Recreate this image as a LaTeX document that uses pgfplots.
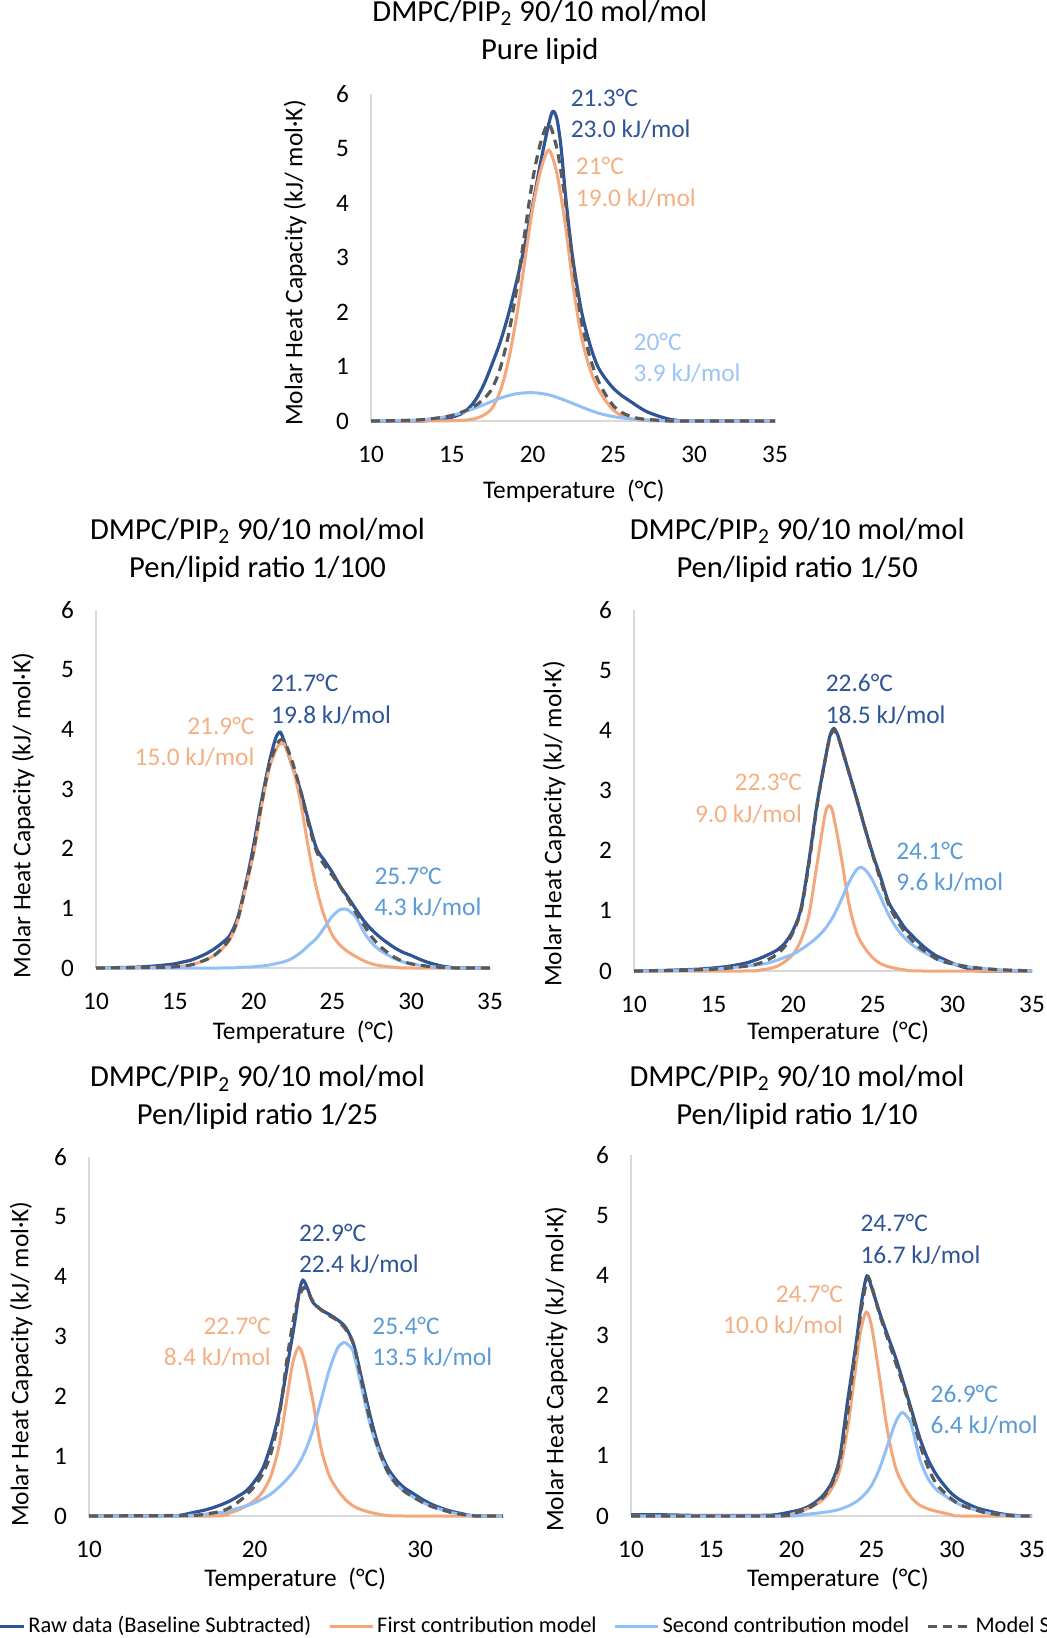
\documentclass[border=0pt]{standalone}
\usepackage{pgfplots}
\pgfplotsset{compat=1.18}
\usepackage{fontspec}
\setmainfont{Carlito}
\definecolor{rawblue}{HTML}{2F5597}
\definecolor{orng}{HTML}{F4A77A}
\definecolor{orngtxt}{HTML}{F4B084}
\definecolor{lblue}{HTML}{92C0F6}
\definecolor{lbtxt}{HTML}{9CC4F4}
\definecolor{mbtxt}{HTML}{5B9BD5}
\definecolor{sumgray}{HTML}{595959}
\tikzset{ann/.style={inner sep=0pt, font=\fontsize{12.7}{15.7}\selectfont}}
\pgfplotsset{
 dsc/.style={
  scale only axis, xmin=10, xmax=35, ymin=0, ymax=6,
  ytick={0,1,2,3,4,5,6}, xtick={10,15,20,25,30,35},
  axis lines=left, axis line style={-, draw=black!15, line width=0.6pt},
  major tick length=0pt,
  tick label style={font=\fontsize{12.6}{14}\selectfont, black},
  /pgf/number format/assume math mode=true,
  yticklabel style={xshift=-7.5pt},
  xticklabel style={yshift=-9pt},
  label style={font=\fontsize{12.7}{15}\selectfont},
  xlabel={Temperature\hspace{3pt} (°C)},
  ylabel={Molar Heat Capacity (kJ/ mol·K)},
  title style={align=center, font=\fontsize{15.3}{19}\selectfont, anchor=center, yshift=0pt},
  clip=false,
 },
 raw/.style={rawblue, line width=1.6pt, smooth},
 first/.style={orng, line width=1.5pt, smooth},
 second/.style={lblue, line width=1.5pt, smooth},
 msum/.style={sumgray, line width=1.6pt, dash pattern=on 4.5pt off 3pt, smooth},
}
\begin{document}
\begin{tikzpicture}
\useasboundingbox (0,0) rectangle (523.5pt,819pt);
% ---------------- Top: pure lipid
\begin{axis}[dsc, at={(185.5pt,608.5pt)}, anchor=south west, width=202pt, height=163.5pt,
 title={DMPC/PIP\textsubscript{2} 90/10 mol/mol\\Pure lipid}, title style={at={(0.418,1.153)}},
 x label style={at={(axis description cs:0.502,-0.214)}, anchor=center},
 y label style={at={(axis description cs:-0.188,0.483)}, anchor=center}]
\addplot[raw] coordinates {(10,0) (13,0) (13.5,0.01) (14,0.02) (14.5,0.04) (15,0.07) (15.5,0.12) (16,0.22) (16.5,0.4) (17,0.68) (17.5,1.05) (18,1.45) (18.5,1.95) (19,2.55) (19.5,3.2) (20,3.95) (20.5,4.75) (21,5.45) (21.25,5.68) (21.5,5.55) (21.75,5.05) (22,4.25) (22.25,3.55) (22.5,2.95) (23,2.05) (23.5,1.45) (24,1.02) (24.5,0.78) (25,0.6) (25.5,0.47) (26,0.37) (26.5,0.27) (27,0.18) (27.5,0.12) (28,0.07) (28.5,0.03) (29,0.01) (29.5,0) (35,0)};
\addplot[first] coordinates {(10,0) (14,0) (15,0.005) (15.5,0.01) (16,0.02) (16.5,0.05) (17,0.11) (17.5,0.24) (18,0.55) (18.5,1.1) (19,1.9) (19.5,2.9) (20,3.9) (20.5,4.6) (21,4.97) (21.5,4.55) (22,3.65) (22.5,2.5) (23,1.58) (23.5,1.0) (24,0.62) (24.5,0.38) (25,0.2) (25.5,0.1) (26,0.05) (26.5,0.02) (27,0.01) (28,0) (35,0)};
\addplot[second] coordinates {(10,0) (11,0.005) (12,0.01) (13,0.02) (14,0.05) (15,0.1) (16,0.19) (17,0.3) (18,0.42) (19,0.5) (20,0.52) (21,0.48) (22,0.38) (23,0.26) (24,0.15) (25,0.08) (26,0.04) (27,0.02) (28,0.01) (29,0) (35,0)};
\addplot[msum] coordinates {(10,0) (12,0.01) (13,0.02) (14,0.05) (15,0.1) (15.5,0.15) (16,0.21) (16.5,0.29) (17,0.41) (17.5,0.6) (18,0.97) (18.5,1.57) (19,2.4) (19.5,3.42) (20,4.42) (20.5,5.11) (21,5.45) (21.5,5.0) (22,4.1) (22.5,2.9) (23,1.88) (23.5,1.22) (24,0.78) (24.5,0.49) (25,0.28) (25.5,0.16) (26,0.09) (26.5,0.05) (27,0.03) (28,0.01) (29,0) (35,0)};
\node[ann, anchor=west, align=left, text=rawblue] at (axis cs:22.34,5.64) {21.3°C\\23.0 kJ/mol};
\node[ann, anchor=west, align=left, text=orngtxt] at (axis cs:22.66,4.38) {21°C\\19.0 kJ/mol};
\node[ann, anchor=west, align=left, text=lbtxt] at (axis cs:26.23,1.155) {20°C\\3.9 kJ/mol};
\end{axis}
% ---------------- Middle left: 1/100
\begin{axis}[dsc, at={(48pt,335pt)}, anchor=south west, width=197pt, height=179pt,
 title={DMPC/PIP\textsubscript{2} 90/10 mol/mol\\Pen/lipid ratio 1/100}, title style={at={(0.41,1.134)}},
 x label style={at={(axis description cs:0.527,-0.179)}, anchor=center},
 y label style={at={(axis description cs:-0.185,0.425)}, anchor=center}]
\addplot[raw] coordinates {(10,0) (12,0.01) (13,0.02) (14,0.04) (15,0.07) (15.5,0.1) (16,0.13) (16.5,0.18) (17,0.24) (17.5,0.32) (18,0.42) (18.5,0.55) (19,0.85) (19.5,1.4) (20,2.05) (20.5,2.8) (21,3.45) (21.4,3.85) (21.7,3.95) (22,3.75) (22.5,3.35) (23,2.95) (23.5,2.45) (24,2.0) (24.5,1.8) (25,1.6) (25.5,1.37) (26,1.18) (26.5,0.98) (27,0.79) (27.5,0.64) (28,0.52) (28.5,0.42) (29,0.33) (29.5,0.26) (30,0.21) (30.5,0.15) (31,0.1) (31.5,0.06) (32,0.03) (32.5,0.01) (33,0) (35,0)};
\addplot[first] coordinates {(10,0) (14,0.01) (15,0.02) (16,0.05) (16.5,0.09) (17,0.14) (17.5,0.21) (18,0.32) (18.5,0.48) (19,0.8) (19.5,1.35) (20,1.92) (20.5,2.7) (21,3.35) (21.5,3.7) (21.8,3.76) (22,3.72) (22.5,3.35) (23,2.75) (23.5,1.98) (24,1.32) (24.5,0.86) (25,0.55) (25.5,0.38) (26,0.27) (26.5,0.19) (27,0.12) (27.5,0.07) (28,0.04) (29,0.01) (30,0) (35,0)};
\addplot[second] coordinates {(10,0) (18,0) (19,0.01) (20,0.02) (21,0.05) (22,0.11) (22.5,0.17) (23,0.26) (23.5,0.38) (24,0.5) (24.5,0.68) (25,0.87) (25.5,0.98) (25.75,0.99) (26,0.97) (26.5,0.85) (27,0.6) (27.5,0.42) (28,0.3) (28.5,0.22) (29,0.15) (29.5,0.1) (30,0.07) (31,0.03) (32,0.01) (33,0) (35,0)};
\addplot[msum] coordinates {(10,0) (14,0.01) (15,0.02) (16,0.05) (16.5,0.09) (17,0.14) (17.5,0.21) (18,0.33) (18.5,0.5) (19,0.82) (19.5,1.38) (20,1.97) (20.5,2.75) (21,3.4) (21.5,3.76) (21.8,3.83) (22,3.78) (22.5,3.42) (23,2.95) (23.5,2.4) (24,1.95) (24.5,1.72) (25,1.55) (25.5,1.36) (26,1.15) (26.5,0.92) (27,0.72) (27.5,0.52) (28,0.37) (28.5,0.26) (29,0.17) (29.5,0.11) (30,0.07) (31,0.03) (32,0.01) (33,0) (35,0)};
\node[ann, anchor=west, align=left, text=rawblue] at (axis cs:21.09,4.5) {21.7°C\\19.8 kJ/mol};
\node[ann, anchor=east, align=right, text=orngtxt] at (axis cs:20.08,3.785) {21.9°C\\15.0 kJ/mol};
\node[ann, anchor=west, align=left, text=mbtxt] at (axis cs:27.65,1.275) {25.7°C\\4.3 kJ/mol};
\end{axis}
% ---------------- Middle right: 1/50
\begin{axis}[dsc, at={(317pt,333.5pt)}, anchor=south west, width=199pt, height=180.5pt,
 title={DMPC/PIP\textsubscript{2} 90/10 mol/mol\\Pen/lipid ratio 1/50}, title style={at={(0.41,1.133)}},
 x label style={at={(axis description cs:0.513,-0.169)}, anchor=center},
 y label style={at={(axis description cs:-0.201,0.407)}, anchor=center}]
\addplot[raw] coordinates {(10,0) (12,0.01) (13,0.02) (14,0.03) (15,0.05) (16,0.08) (17,0.13) (17.5,0.17) (18,0.22) (18.5,0.28) (19,0.35) (19.5,0.47) (20,0.68) (20.5,1.05) (21,1.85) (21.5,2.78) (22,3.5) (22.3,3.9) (22.55,4.03) (22.8,3.92) (23,3.75) (23.5,3.3) (24,2.85) (24.5,2.38) (25,1.94) (25.5,1.55) (26,1.14) (26.5,0.92) (27,0.72) (27.5,0.58) (28,0.45) (28.5,0.34) (29,0.25) (29.5,0.19) (30,0.13) (30.5,0.08) (31,0.04) (31.5,0.01) (32,0) (35,0)};
\addplot[first] coordinates {(10,0) (17,0) (18,0.02) (18.5,0.04) (19,0.08) (19.5,0.16) (20,0.28) (20.5,0.52) (21,0.95) (21.5,1.78) (22,2.6) (22.25,2.75) (22.5,2.62) (23,1.92) (23.5,1.12) (24,0.62) (24.5,0.38) (25,0.22) (25.5,0.12) (26,0.07) (26.5,0.04) (27,0.02) (28,0) (35,0)};
\addplot[second] coordinates {(10,0) (13,0.01) (14,0.02) (15,0.03) (16,0.05) (17,0.08) (18,0.11) (18.5,0.14) (19,0.18) (19.5,0.23) (20,0.28) (20.5,0.36) (21,0.45) (21.5,0.56) (22,0.7) (22.5,0.9) (23,1.17) (23.5,1.47) (24,1.69) (24.3,1.72) (24.6,1.66) (25,1.5) (25.5,1.22) (26,0.93) (26.5,0.71) (27,0.55) (27.5,0.43) (28,0.34) (28.5,0.27) (29,0.2) (29.5,0.15) (30,0.12) (31,0.07) (32,0.04) (33,0.02) (34,0.01) (35,0)};
\addplot[msum] coordinates {(10,0) (13,0.01) (14,0.02) (15,0.03) (16,0.05) (17,0.08) (17.5,0.1) (18,0.14) (18.5,0.2) (19,0.28) (19.5,0.42) (20,0.65) (20.5,1.02) (21,1.8) (21.5,2.75) (22,3.5) (22.3,3.88) (22.55,4.0) (22.8,3.9) (23,3.74) (23.5,3.3) (24,2.85) (24.5,2.38) (25,1.92) (25.5,1.5) (26,1.1) (26.5,0.85) (27,0.65) (27.5,0.5) (28,0.38) (28.5,0.29) (29,0.2) (29.5,0.15) (30,0.12) (31,0.07) (32,0.04) (33,0.02) (34,0.01) (35,0)};
\node[ann, anchor=west, align=left, text=rawblue] at (axis cs:22.02,4.515) {22.6°C\\18.5 kJ/mol};
\node[ann, anchor=east, align=right, text=orngtxt] at (axis cs:20.57,2.87) {22.3°C\\9.0 kJ/mol};
\node[ann, anchor=west, align=left, text=mbtxt] at (axis cs:26.45,1.735) {24.1°C\\9.6 kJ/mol};
\end{axis}
% ---------------- Bottom left: 1/25
\begin{axis}[dsc, at={(44.5pt,61pt)}, anchor=south west, width=207pt, height=179.5pt,
 xtick={10,20,30},
 title={DMPC/PIP\textsubscript{2} 90/10 mol/mol\\Pen/lipid ratio 1/25}, title style={at={(0.407,1.132)}},
 x label style={at={(axis description cs:0.498,-0.175)}, anchor=center},
 y label style={at={(axis description cs:-0.164,0.423)}, anchor=center},
 legend columns=4,
 legend style={draw=none, fill=none, inner sep=0pt, at={(axis description cs:-0.266,-0.307)}, anchor=west,
   font=\fontsize{11.2}{13}\selectfont, nodes={inner sep=1.5pt},
   /tikz/every even column/.append style={column sep=7pt}},
 legend image code/.code={\draw[#1] (0pt,0pt) -- (21.5pt,0pt);}]
\addplot[raw] coordinates {(10,0) (15,0) (15.5,0.01) (16,0.04) (16.5,0.07) (17,0.1) (17.5,0.14) (18,0.19) (18.5,0.25) (19,0.33) (19.5,0.42) (20,0.58) (20.5,0.8) (21,1.2) (21.5,1.75) (22,2.55) (22.4,3.2) (22.7,3.75) (22.92,3.94) (23.2,3.8) (23.5,3.58) (24,3.45) (24.5,3.37) (25,3.28) (25.5,3.15) (26,2.85) (26.5,2.25) (27,1.65) (27.5,1.15) (28,0.82) (28.5,0.62) (29,0.48) (29.5,0.39) (30,0.3) (30.5,0.22) (31,0.16) (31.5,0.11) (32,0.07) (32.5,0.04) (33,0.01) (33.5,0) (35,0)};
\addplot[first] coordinates {(10,0) (17.5,0) (18,0.02) (18.5,0.05) (19,0.1) (19.5,0.17) (20,0.26) (20.5,0.41) (21,0.68) (21.5,1.2) (22,2.05) (22.3,2.55) (22.66,2.82) (23,2.6) (23.5,1.95) (24,1.15) (24.5,0.68) (25,0.44) (25.5,0.27) (26,0.16) (26.5,0.1) (27,0.06) (27.5,0.03) (28,0.01) (29,0) (35,0)};
\addplot[second] coordinates {(10,0) (15.5,0) (16,0.01) (17,0.03) (18,0.06) (18.5,0.09) (19,0.13) (19.5,0.17) (20,0.22) (20.5,0.29) (21,0.37) (21.5,0.49) (22,0.63) (22.5,0.8) (23,1.05) (23.5,1.42) (24,1.92) (24.5,2.43) (25,2.8) (25.4,2.9) (25.8,2.82) (26,2.7) (26.5,2.1) (27,1.5) (27.5,1.08) (28,0.75) (28.5,0.55) (29,0.42) (29.5,0.33) (30,0.25) (30.5,0.18) (31,0.13) (31.5,0.09) (32,0.05) (32.5,0.03) (33,0.01) (33.5,0) (35,0)};
\addplot[msum] coordinates {(10,0) (16,0.01) (17,0.03) (18,0.08) (18.5,0.14) (19,0.23) (19.5,0.35) (20,0.5) (20.5,0.71) (21,1.06) (21.5,1.7) (22,2.7) (22.5,3.5) (23,3.82) (23.5,3.6) (24,3.45) (24.5,3.35) (25,3.27) (25.5,3.12) (26,2.85) (26.5,2.2) (27,1.56) (27.5,1.11) (28,0.76) (28.5,0.55) (29,0.42) (29.5,0.33) (30,0.25) (30.5,0.18) (31,0.13) (31.5,0.09) (32,0.05) (32.5,0.03) (33,0.01) (33.5,0) (35,0)};
\legend{Raw data (Baseline Subtracted), First contribution model, Second contribution model, Model Sum}
\node[ann, anchor=west, align=left, text=rawblue] at (axis cs:22.66,4.465) {22.9°C\\22.4 kJ/mol};
\node[ann, anchor=east, align=right, text=orngtxt] at (axis cs:21.0,2.915) {22.7°C\\8.4 kJ/mol};
\node[ann, anchor=west, align=left, text=mbtxt] at (axis cs:27.09,2.915) {25.4°C\\13.5 kJ/mol};
\end{axis}
% ---------------- Bottom right: 1/10
\begin{axis}[dsc, at={(315.5pt,61pt)}, anchor=south west, width=200.5pt, height=180.5pt,
 title={DMPC/PIP\textsubscript{2} 90/10 mol/mol\\Pen/lipid ratio 1/10}, title style={at={(0.414,1.126)}},
 x label style={at={(axis description cs:0.516,-0.175)}, anchor=center},
 y label style={at={(axis description cs:-0.187,0.407)}, anchor=center}]
\addplot[raw] coordinates {(10,0.02) (12,0.02) (14,0.01) (16,0.01) (18,0.01) (19,0.02) (20,0.07) (20.5,0.1) (21,0.15) (21.5,0.23) (22,0.35) (22.5,0.55) (23,0.95) (23.5,1.9) (24,2.8) (24.4,3.6) (24.71,3.99) (25,3.8) (25.5,3.38) (26,3.0) (26.5,2.63) (27,2.2) (27.5,1.75) (28,1.3) (28.5,0.95) (29,0.7) (29.5,0.52) (30,0.37) (30.5,0.27) (31,0.2) (31.5,0.14) (32,0.1) (32.5,0.07) (33,0.04) (33.5,0.02) (34,0.01) (34.5,0) (35,0)};
\addplot[first] coordinates {(10,0) (19.5,0) (20,0.03) (20.5,0.07) (21,0.12) (21.5,0.19) (22,0.28) (22.5,0.45) (23,0.75) (23.5,1.45) (24,2.45) (24.3,3.05) (24.66,3.39) (25,3.15) (25.5,2.3) (26,1.4) (26.5,0.8) (27,0.5) (27.5,0.3) (28,0.18) (28.5,0.12) (29,0.08) (29.5,0.05) (30,0.02) (30.5,0) (35,0)};
\addplot[second] coordinates {(10,0) (19.5,0) (20,0.01) (21,0.03) (22,0.06) (22.5,0.08) (23,0.11) (23.5,0.16) (24,0.23) (24.5,0.34) (25,0.51) (25.5,0.79) (26,1.18) (26.5,1.56) (26.9,1.72) (27.3,1.62) (27.5,1.5) (28,0.95) (28.5,0.63) (29,0.45) (29.5,0.35) (30,0.26) (30.5,0.19) (31,0.14) (31.5,0.1) (32,0.06) (32.5,0.04) (33,0.02) (33.5,0.01) (34,0) (35,0)};
\addplot[msum] coordinates {(10,0) (19,0) (20,0.04) (20.5,0.07) (21,0.12) (21.5,0.2) (22,0.32) (22.5,0.52) (23,0.9) (23.5,1.7) (24,2.75) (24.4,3.5) (24.75,3.95) (25,3.82) (25.5,3.35) (26,2.95) (26.5,2.55) (27,2.15) (27.5,1.7) (28,1.2) (28.5,0.82) (29,0.55) (29.5,0.4) (30,0.28) (30.5,0.19) (31,0.14) (31.5,0.1) (32,0.06) (32.5,0.04) (33,0.02) (33.5,0.01) (34,0) (35,0)};
\node[ann, anchor=west, align=left, text=rawblue] at (axis cs:24.29,4.6) {24.7°C\\16.7 kJ/mol};
\node[ann, anchor=east, align=right, text=orngtxt] at (axis cs:23.24,3.425) {24.7°C\\10.0 kJ/mol};
\node[ann, anchor=west, align=left, text=mbtxt] at (axis cs:28.66,1.76) {26.9°C\\6.4 kJ/mol};
\end{axis}
\end{tikzpicture}
\end{document}
